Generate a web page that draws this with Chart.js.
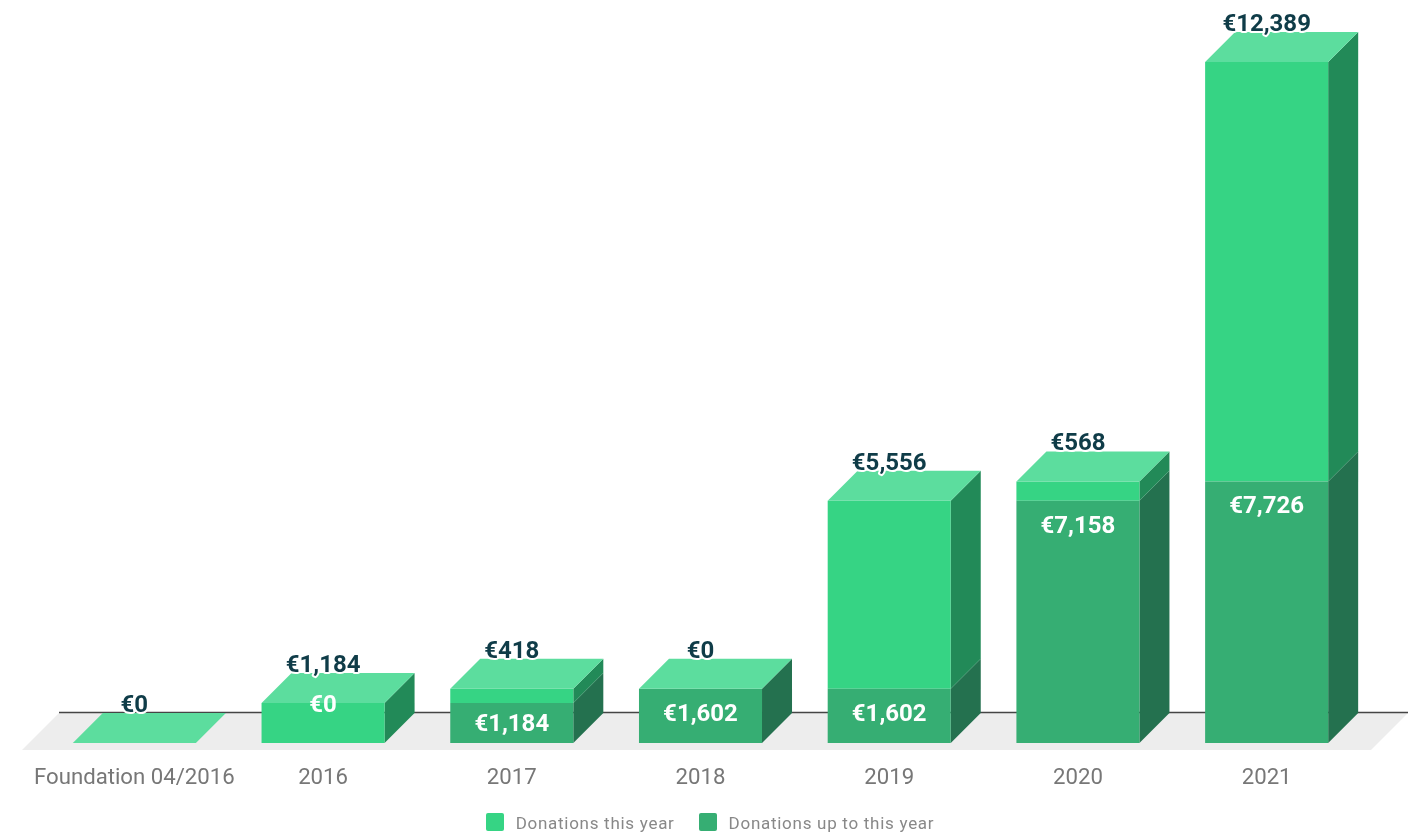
<!DOCTYPE html>
<html lang="en">
  <head>
    <title>Donations</title>
    <meta charset="utf-8" />
    <style>
      html, body { margin: 0; background: #fff; }
      #box { position: relative; width: 1420px; height: 834px; }
      #leyenda {
        position: absolute;
        left: 0;
        right: 0;
        top: 813px;
        display: flex;
        justify-content: center;
        gap: 24px;
        font: 17px/18px Roboto, sans-serif;
        letter-spacing: 0.72px;
        color: #888;
      }
      #leyenda div { display: flex; gap: 12px; }
      #leyenda i { width: 18px; height: 18px; border-radius: 2px; }
      #leyenda span { position: relative; top: 1px; }
    </style>
  </head>
  <body>
    <div id="box">
      <canvas id="lienzo"></canvas>
      <div id="leyenda"></div>
    </div>

    <script src="https://cdn.jsdelivr.net/npm/chart.js"></script>
    <script>
      const categories = ["Foundation 04/2016", "2016", "2017", "2018", "2019", "2020", "2021"];
      const thisYear = [0, 1184, 418, 0, 5556, 568, 12389];
      const upToYear = [0, 0, 1184, 1602, 1602, 7158, 7726];

      const depth = 30;
      const fontFamily = "Roboto, sans-serif";

      function face(ctx, points, color) {
        ctx.fillStyle = color;
        ctx.beginPath();
        points.forEach((p, i) => (i ? ctx.lineTo(p[0], p[1]) : ctx.moveTo(p[0], p[1])));
        ctx.closePath();
        ctx.fill();
      }

      const euro = (v) => "€" + v.toLocaleString("en-US");

      // floor, back line and the side and top faces of the boxes
      const boxes = {
        id: "boxes",
        beforeDatasetsDraw(chart) {
          const { ctx, chartArea } = chart;
          const base = chart.scales.y.getPixelForValue(0);
          const backY = base - depth;
          ctx.save();
          face(ctx, [
            [chartArea.left - 18, base + 7],
            [chartArea.right + 10, base + 7],
            [chartArea.right + 47, backY],
            [chartArea.left + 19, backY],
          ], "#ededed");
          ctx.strokeStyle = "#454545";
          ctx.lineWidth = 1.5;
          ctx.beginPath();
          ctx.moveTo(chartArea.left + 19, backY - 0.5);
          ctx.lineTo(chartArea.right + 47, backY - 0.5);
          ctx.stroke();

          chart.data.datasets.forEach((ds, d) => {
            chart.getDatasetMeta(d).data.forEach((bar) => {
              const r = bar.x + bar.width / 2;
              face(ctx, [
                [r, bar.y],
                [r + depth, bar.y - depth],
                [r + depth, bar.base - depth],
                [r, bar.base],
              ], ds.sideColor);
            });
          });
          ctx.restore();
        },
        afterDatasetsDraw(chart) {
          const { ctx } = chart;
          const last = chart.data.datasets.length - 1;
          ctx.save();
          chart.getDatasetMeta(last).data.forEach((bar) => {
            const l = bar.x - bar.width / 2;
            const r = bar.x + bar.width / 2;
            face(ctx, [
              [l, bar.y],
              [r, bar.y],
              [r + depth, bar.y - depth],
              [l + depth, bar.y - depth],
            ], "#5cdd9e");
          });

          ctx.font = "700 24px " + fontFamily;
          ctx.textAlign = "center";
          ctx.textBaseline = "middle";
          ctx.lineJoin = "round";
          chart.getDatasetMeta(0).data.forEach((bar, i) => {
            const v = upToYear[i];
            const mid = (bar.y + bar.base) / 2;
            const y = v > 0 ? Math.min(bar.y + 26, mid + 2) : bar.y - 37;
            if (i === 0) return;
            ctx.fillStyle = "#fff";
            ctx.fillText(euro(v), bar.x, y);
          });
          chart.getDatasetMeta(last).data.forEach((bar, i) => {
            ctx.strokeStyle = "#fff";
            ctx.lineWidth = 4;
            ctx.strokeText(euro(thisYear[i]), bar.x, bar.y - 37);
            ctx.fillStyle = "#0f3c48";
            ctx.fillText(euro(thisYear[i]), bar.x, bar.y - 37);
          });
          ctx.restore();
        },
      };

      const grafico = new Chart(document.querySelector("#lienzo"), {
        type: "bar",
        data: {
          labels: categories,
          datasets: [
            {
              label: "Donations up to this year",
              data: upToYear,
              backgroundColor: "#36ae73",
              sideColor: "#24714f",
            },
            {
              label: "Donations this year",
              data: thisYear,
              backgroundColor: "#36d484",
              sideColor: "#228a58",
            },
          ],
        },
        options: {
          responsive: true,
          maintainAspectRatio: false,
          animation: false,
          layout: { padding: { left: 40, right: 59, top: 32, bottom: 0 } },
          datasets: { bar: { barPercentage: 0.652, categoryPercentage: 1, borderWidth: 0 } },
          scales: {
            x: {
              stacked: true,
              grid: { display: false },
              border: { display: false },
              ticks: {
                color: "#777",
                font: { family: fontFamily, size: 22.2 },
                padding: 14,
                maxRotation: 0,
                autoSkip: false,
              },
              afterFit(scale) {
                scale.height = 91;
              },
            },
            y: { stacked: true, display: false, min: 0, max: 21000 },
          },
          plugins: {
            tooltip: { enabled: false },
            legend: { display: false },
          },
        },
        plugins: [boxes],
      });

      // legend in html, this year first
      [...grafico.data.datasets].reverse().forEach((ds) => {
        const item = document.createElement("div");
        const swatch = document.createElement("i");
        const name = document.createElement("span");
        swatch.style.background = ds.backgroundColor;
        name.textContent = ds.label;
        item.append(swatch, name);
        document.querySelector("#leyenda").appendChild(item);
      });
    </script>
  </body>
</html>
